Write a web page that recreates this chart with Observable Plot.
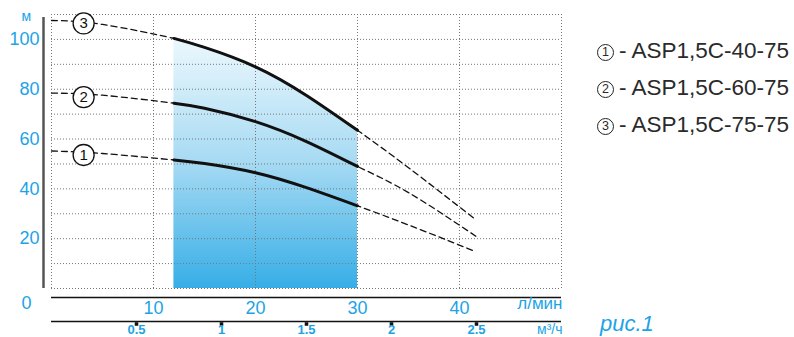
<!DOCTYPE html>
<html>
<head>
<meta charset="utf-8">
<script src="https://cdn.jsdelivr.net/npm/d3@7"></script>
<script src="https://cdn.jsdelivr.net/npm/@observablehq/plot@0.6"></script>
<style>
  html, body { margin: 0; padding: 0; background: #fff; }
  #wrap { position: relative; width: 794px; height: 337px; overflow: hidden; font-family: "Liberation Sans", Arial, sans-serif; }
  #wrap svg { position: absolute; left: 0; top: 0; overflow: visible; }
  .leg { position: absolute; left: 597px; height: 28px; line-height: 28px; font-size: 22.5px; font-weight: 400; color: #2a2a2a; white-space: nowrap; }
  .leg .c { display: inline-block; box-sizing: border-box; width: 17px; height: 17px; border: 1.2px solid #222; border-radius: 50%; font-size: 12.5px; line-height: 15px; text-align: center; vertical-align: 2px; margin-right: 5px; }
  #fig { position: absolute; left: 600px; top: 311px; font-size: 22px; font-style: italic; color: #1ca3e6; }
</style>
</head>
<body>
<div id="wrap"></div>
<script>
// Flow in l/min (Q) and head in m (H)
const flow   = [0, 5, 12, 15, 20, 25, 30, 35, 41.6];
const head1  = [55.2, 54.2, 51.6, 50.2, 46.5, 40.5, 33.2, 25.5, 14.8];  // ASP1,5C-40-75
const head2  = [78.4, 77.6, 74.4, 72.4, 67, 59, 49, 38.5, 21];          // ASP1,5C-60-75
const head3  = [107.6, 106, 100.4, 96.8, 89, 77.5, 63.5, 48.5, 27.6];   // ASP1,5C-75-75
const seriesNames = ["1", "2", "3"];
const legendLabels = ["ASP1,5C-40-75", "ASP1,5C-60-75", "ASP1,5C-75-75"];
const workFrom = 12, workTo = 30;           // working range (solid part)
const labelFlow = 3.15;                     // where the circled numbers sit
const labelHead = [53.6, 76.8, 106.4];
const yTicks = [20, 40, 60, 80, 100];
const xTicks = [10, 20, 30, 40];
const m3hTicks = [0.5, 1, 1.5, 2, 2.5];     // m³/h, second scale

const blue = "#1ca3e6";
const heads = [head1, head2, head3];
const rows = heads.flatMap((h, i) => flow.map((q, j) => ({ q, h: h[j], s: seriesNames[i] })));
const solidRows = rows.filter(d => d.q >= workFrom && d.q <= workTo);
const areaRows = solidRows.filter(d => d.s === "3");
const circles = seriesNames.map((s, i) => ({ s, q: labelFlow, h: labelHead[i] }));

const gradient = () => {
  const defs = d3.create("svg:defs");
  const g = defs.append("linearGradient").attr("id", "blueFill")
    .attr("x1", 0).attr("y1", 0).attr("x2", 0).attr("y2", 1);
  g.append("stop").attr("offset", "0%").attr("stop-color", "#ecf8fd");
  g.append("stop").attr("offset", "50%").attr("stop-color", "#a6daf3");
  g.append("stop").attr("offset", "100%").attr("stop-color", "#36aee7");
  return defs.node();
};

const chart = Plot.plot({
  width: 794,
  height: 337,
  marginLeft: 51,
  marginRight: 233,
  marginTop: 14,
  marginBottom: 49,
  style: { fontFamily: "'Liberation Sans', Arial, sans-serif", background: "transparent", overflow: "visible" },
  x: { domain: [0, 50], axis: null },
  y: { domain: [0, 110], axis: null },
  marks: [
    gradient,
    Plot.areaY(areaRows, { x: "q", y: "h", curve: "natural", fill: "url(#blueFill)" }),
    Plot.ruleX(d3.range(0, 51, 10), { stroke: "#777", strokeWidth: 1, strokeDasharray: "1,2" }),
    Plot.ruleY(d3.range(0, 111, 10), { stroke: "#777", strokeWidth: 1, strokeDasharray: "1,2" }),
    // left axis line
    Plot.ruleX([0], { y1: 0, y2: 108.8, dx: -8, stroke: "#555", strokeWidth: 2.5 }),
    Plot.axisY({ ticks: yTicks, tickSize: 0, tickPadding: 12, fill: blue, fontSize: 18, label: null }),
    Plot.text(["м"], { frameAnchor: "top-left", lineAnchor: "middle", dx: -30, dy: 2, fill: blue, fontSize: 14 }),
    Plot.text(["0"], { frameAnchor: "bottom-left", lineAnchor: "middle", dx: -30, dy: 15, fill: blue, fontSize: 18 }),
    // l/min scale
    Plot.ruleY([0], { dy: 9, stroke: "#111", strokeWidth: 1.5 }),
    Plot.axisX({ ticks: xTicks, tickSize: 0, tickPadding: 13, fill: blue, fontSize: 18, label: null }),
    Plot.text(["л/мин"], { frameAnchor: "bottom-right", lineAnchor: "middle", dx: 1, dy: 15, textAnchor: "end", fill: blue, fontSize: 17 }),
    // m³/h scale
    Plot.ruleY([0], { dy: 33, stroke: "#111", strokeWidth: 1.5 }),
    Plot.dot(m3hTicks, { x: d => d * 1000 / 60, frameAnchor: "bottom", dy: 35.5, symbol: "square", r: 2, fill: "#111" }),
    Plot.text(m3hTicks, { x: d => d * 1000 / 60, text: d => String(d), frameAnchor: "bottom", lineAnchor: "middle", dy: 41, fill: blue, fontSize: 13, fontWeight: "bold" }),
    Plot.text(["м³/ч"], { frameAnchor: "bottom-right", lineAnchor: "middle", dx: 1, dy: 41, textAnchor: "end", fill: blue, fontSize: 14 }),
    // curves
    Plot.line(rows, { x: "q", y: "h", z: "s", curve: "natural", stroke: "#111", strokeWidth: 1.3, strokeDasharray: "6,4" }),
    Plot.line(solidRows, { x: "q", y: "h", z: "s", curve: "natural", stroke: "#111", strokeWidth: 3 }),
    Plot.dot(circles, { x: "q", y: "h", r: 10.5, fill: "white", stroke: "#111", strokeWidth: 1.3 }),
    Plot.text(circles, { x: "q", y: "h", text: "s", fill: "#111", fontSize: 15 })
  ]
});

const wrap = document.getElementById("wrap");
wrap.appendChild(chart);
const centers = [51, 88, 125];
legendLabels.forEach((lab, i) => {
  const div = document.createElement("div");
  div.className = "leg";
  div.style.top = (centers[i] - 14) + "px";
  const c = document.createElement("span");
  c.className = "c";
  c.textContent = seriesNames[i];
  div.appendChild(c);
  div.appendChild(document.createTextNode("- " + lab));
  wrap.appendChild(div);
});
const fig = document.createElement("div");
fig.id = "fig";
fig.textContent = "рис.1";
wrap.appendChild(fig);
</script>
</body>
</html>
